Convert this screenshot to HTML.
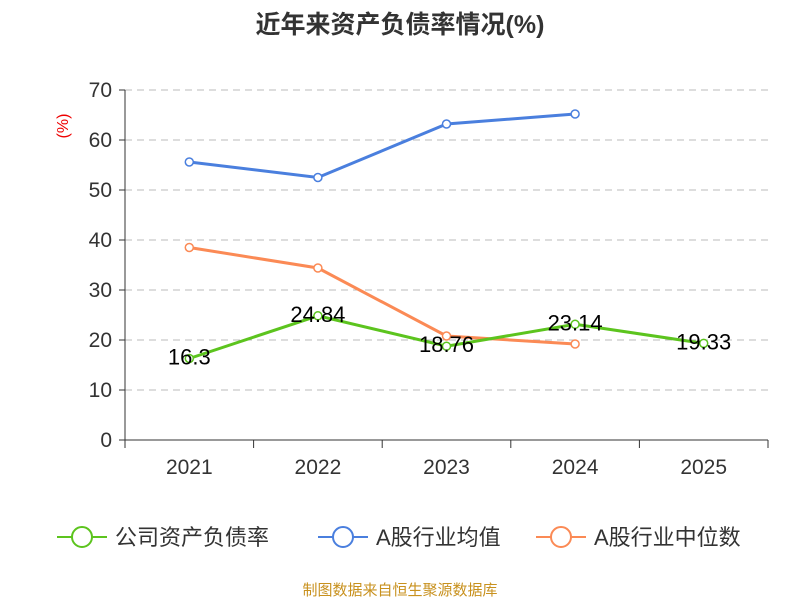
<!DOCTYPE html>
<html><head><meta charset="utf-8">
<style>
body{margin:0;background:#fff;}
svg text{font-family:"Liberation Sans","Noto Sans CJK SC",sans-serif;}
</style></head>
<body>
<svg id="chart" width="800" height="600" viewBox="0 0 800 600" xmlns="http://www.w3.org/2000/svg">
<text x="400" y="33" text-anchor="middle" font-size="25" font-weight="bold" fill="#333">近年来资产负债率情况(%)</text>
<text x="68" y="126" font-size="16" fill="#e00" transform="rotate(-90 68 126)" text-anchor="middle">(%)</text>
<g id="grid"></g><g id="axes"></g><g id="series"></g>
<g id="legend"></g>
<text x="400" y="595" text-anchor="middle" font-size="15" fill="#c8911e">制图数据来自恒生聚源数据库</text>
</svg>
<script>
const categories=["2021","2022","2023","2024","2025"];
const company=[16.3,24.84,18.76,23.14,19.33];
const industryAvg=[55.6,52.5,63.2,65.2];
const industryMedian=[38.5,34.4,20.8,19.2];
const yTicks=[0,10,20,30,40,50,60,70];
const seriesNames=["公司资产负债率","A股行业均值","A股行业中位数"];
const NS="http://www.w3.org/2000/svg";
const x0=125,x1=768,y0=440,y1=90,yMax=70;
const bw=(x1-x0)/categories.length;
const xS=i=>x0+bw*(i+0.5);
const yS=v=>y0-(v/yMax)*(y0-y1);
function mk(tag,attrs,parent){const e=document.createElementNS(NS,tag);for(const k in attrs)e.setAttribute(k,attrs[k]);parent.appendChild(e);return e;}
const grid=document.getElementById('grid'),axes=document.getElementById('axes'),ser=document.getElementById('series'),leg=document.getElementById('legend');
yTicks.forEach(t=>{
  const y=yS(t);
  if(t>0){const g=mk('line',{x1:x0,x2:x1,y1:y,y2:y,stroke:'#bbb','stroke-dasharray':'7,5'},grid);
  
  }
  const tk=mk('line',{x1:x0-6,x2:x0,y1:y,y2:y,stroke:'#333'},axes);
  
  
  const tx=mk('text',{x:x0-13,y:y+7,'text-anchor':'end','font-size':21,fill:'#333'},axes);
  tx.textContent=t;
  
  
});
const ya=mk('line',{x1:x0,x2:x0,y1:y1,y2:y0,stroke:'#333'},axes);


const xa=mk('line',{x1:x0,x2:x1,y1:y0,y2:y0,stroke:'#333'},axes);


for(let i=0;i<=categories.length;i++){
  const x=x0+bw*i;
  const tk=mk('line',{x1:x,x2:x,y1:y0,y2:y0+8,stroke:'#333'},axes);
  
  
}
categories.forEach((c,i)=>{
  const tx=mk('text',{x:xS(i),y:474,'text-anchor':'middle','font-size':21,fill:'#333'},axes);
  tx.textContent=c;
  
  
});
function drawSeries(data,color,name,labels){
  const pts=data.map((v,i)=>xS(i)+','+yS(v)).join(' ');
  const pl=mk('polyline',{points:pts,fill:'none',stroke:color,'stroke-width':3},ser);
  
  
  data.forEach((v,i)=>{
    const c=mk('circle',{cx:xS(i),cy:yS(v),r:4,fill:'#fff',stroke:color,'stroke-width':1.5},ser);
    
    
    if(labels){
      const t=mk('text',{x:xS(i),y:yS(v)+6,'text-anchor':'middle','font-size':22,fill:'#000'},ser);
      t.textContent=v;
      
      
    }
  });
}
drawSeries(industryAvg,'#4a7fde','industry-average',false);
drawSeries(industryMedian,'#fb8a55','industry-median',false);
drawSeries(company,'#5cc41e','company',true);
const colors=['#5cc41e','#4a7fde','#fb8a55'];
const lx=[57,318,536];
seriesNames.forEach((n,i)=>{
  const g=mk('g',{},leg);
  
  
  mk('line',{x1:lx[i],x2:lx[i]+50,y1:537,y2:537,stroke:colors[i],'stroke-width':2},g);
  mk('circle',{cx:lx[i]+25,cy:537,r:10,fill:'#fff',stroke:colors[i],'stroke-width':2},g);
  const t=mk('text',{x:lx[i]+58,y:545,'font-size':22,fill:'#333'},g);
  t.textContent=n;
});
</script>
</body></html>
